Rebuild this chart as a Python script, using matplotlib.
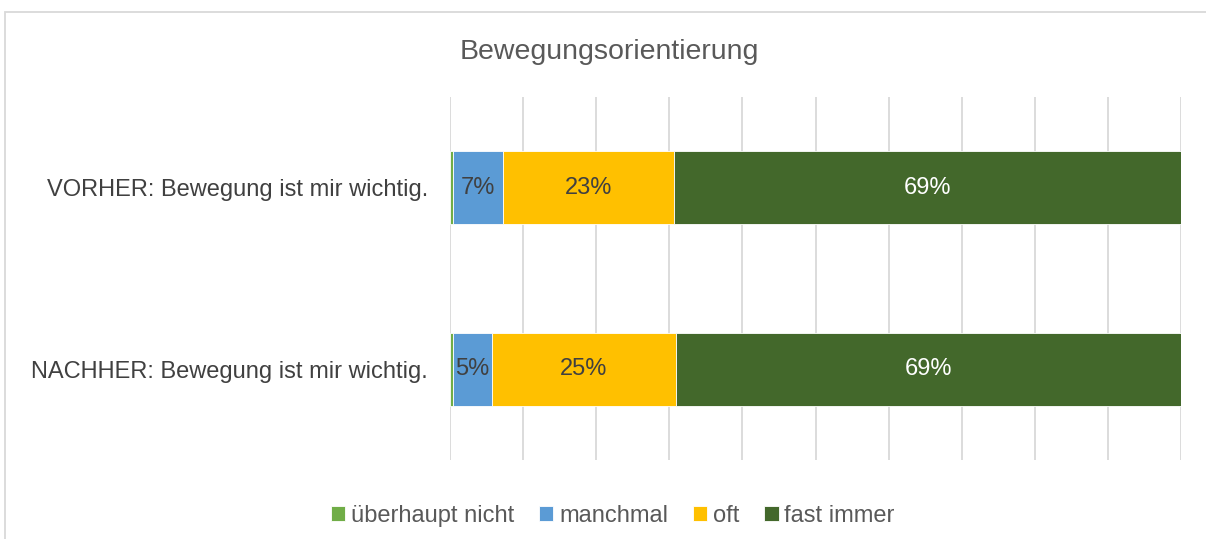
import matplotlib.pyplot as plt
import numpy as np

plt.rcParams['font.family'] = ['Liberation Sans', 'DejaVu Sans']

kategorien = ['VORHER: Bewegung ist mir wichtig.', 'NACHHER: Bewegung ist mir wichtig.']
antworten = ['überhaupt nicht', 'manchmal', 'oft', 'fast immer']
werte = {
    'überhaupt nicht': [0.4, 0.4],
    'manchmal': [6.9, 5.3],
    'oft': [23.4, 25.2],
    'fast immer': [69.3, 69.1],
}
beschriftung = {
    'überhaupt nicht': ['', ''],
    'manchmal': ['7%', '5%'],
    'oft': ['23%', '25%'],
    'fast immer': ['69%', '69%'],
}
farben = ['#70AD47', '#5B9BD5', '#FFC000', '#43682B']
textfarben = ['#404040', '#404040', '#404040', 'white']

fig = plt.figure(figsize=(12.06, 5.39), dpi=100)
ax = fig.add_axes([450 / 1206, 1 - 460 / 539, 731 / 1206, 363 / 539])

y = np.arange(len(kategorien))
links = np.zeros(len(kategorien))
for name, farbe, tf in zip(antworten, farben, textfarben):
    v = np.array(werte[name])
    bars = ax.barh(y, v, left=links, height=0.4, color=farbe, label=name,
                   edgecolor='white', linewidth=0.6, zorder=3)
    for b, txt in zip(bars, beschriftung[name]):
        if txt:
            ax.text(b.get_x() + b.get_width() / 2, b.get_y() + b.get_height() / 2,
                    txt, ha='center', va='center', fontsize=17, color=tf, zorder=4)
    links += v

ax.set_xlim(0, 100)
ax.set_ylim(1.5, -0.5)
ax.set_xticks(np.arange(0, 101, 10))
ax.set_xticklabels([])
ax.tick_params(axis='x', length=0)
ax.tick_params(axis='y', length=0, pad=16, labelsize=17, labelcolor='#404040')
ax.set_yticks(y)
ax.set_yticklabels(kategorien)
ax.grid(axis='x', color='#D9D9D9', linewidth=1.3, zorder=0)
for s in ax.spines.values():
    s.set_visible(False)

fig.text(609 / 1206, 1 - 52 / 539, 'Bewegungsorientierung', ha='center', va='center',
         fontsize=20.5, color='#595959')

fig.legend(loc='center', bbox_to_anchor=(613 / 1206, 1 - 516 / 539), ncol=4, frameon=False,
           fontsize=17, handlelength=0.6, handleheight=0.6, handletextpad=0.25,
           columnspacing=1.05, labelcolor='#595959')

rahmen = plt.Rectangle((5 / 1206, -0.02), 1.1, 1 - 12 / 539 + 0.02, transform=fig.transFigure,
                       fill=False, edgecolor='#D9D9D9', linewidth=1.3)
fig.patches.append(rahmen)

fig.savefig('out.png', dpi=100)
